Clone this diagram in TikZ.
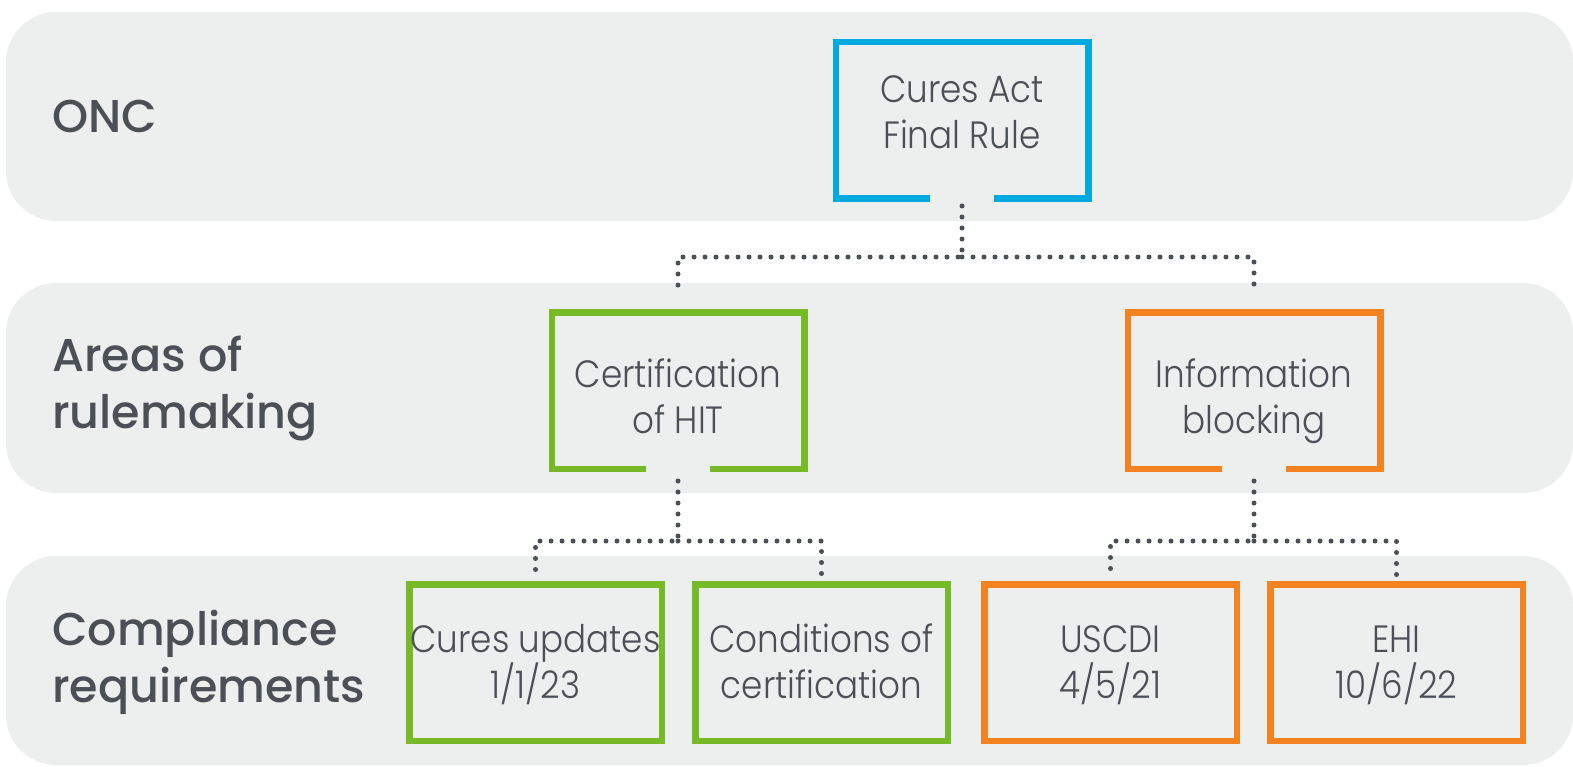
\documentclass[tikz,border=0pt]{standalone}
\usepackage{fontspec}
\setmainfont{Poppins}
\newfontfamily\boxfont{Poppins Light}[FakeStretch=0.9]
\newfontfamily\headfont{Poppins Medium}
\usetikzlibrary{shapes,arrows}

\definecolor{bandgray}{RGB}{237,238,238}
\definecolor{textgray}{RGB}{75,80,86}
\definecolor{curesblue}{RGB}{0,169,224}
\definecolor{hitgreen}{RGB}{120,185,40}
\definecolor{blockorange}{RGB}{245,130,32}

\begin{document}
\begin{tikzpicture}[x=1pt,y=1pt,yscale=-1,xscale=1,
  band/.style={fill=bandgray,rounded corners=50pt},
  head/.style={anchor=west,inner sep=0pt,align=left,text=textgray,font=\headfont\fontsize{46}{57}\selectfont},
  boxtext/.style={minimum width=252.5pt,minimum height=156.5pt,inner sep=0pt,outer sep=0pt,align=center,text=textgray,text height=91pt,text depth=20pt,font=\boxfont\fontsize{38}{46}\selectfont},
  rulebox/.style={boxtext,draw=#1,line width=6.5pt},
  boxline/.style={draw=#1,line width=6.5pt,line join=miter},
  dotline/.style={draw=textgray,line width=5pt,line cap=round,dash pattern=on 0pt off 11pt}]
\useasboundingbox (0,0) rectangle (1573,766);
%bands
\fill[band] (6,12) rectangle (1573,221);
\fill[band] (6,283) rectangle (1573,493);
\fill[band] (6,556) rectangle (1573,765);

\draw (52,116) node [head] (onc) {ONC};
\draw (52,388) node [head] (areas) {Areas of\\rulemaking};
\draw (52,662) node [head] (compl) {Compliance\\requirements};

%boxes with an opening at the bottom
\draw (962,120) node [boxtext,text height=76pt] (cures) {Cures Act\\Final Rule};
\draw (678,390.5) node [boxtext,text height=105pt] (cert) {Certification\\of HIT};
\draw (1254,390.5) node [boxtext,text height=105pt] (info) {Information\\blocking};
\draw[boxline=curesblue] ([xshift=-32pt]cures.south) -- (cures.south west) -- (cures.north west) -- (cures.north east) -- (cures.south east) -- ([xshift=32pt]cures.south);
\draw[boxline=hitgreen] ([xshift=-32pt]cert.south) -- (cert.south west) -- (cert.north west) -- (cert.north east) -- (cert.south east) -- ([xshift=32pt]cert.south);
\draw[boxline=blockorange] ([xshift=-32pt]info.south) -- (info.south west) -- (info.north west) -- (info.north east) -- (info.south east) -- ([xshift=32pt]info.south);

\draw (535.5,662.5) node [rulebox=hitgreen] (cupd) {Cures updates\\1/1/23};
\draw (821.5,662.5) node [rulebox=hitgreen] (cond) {Conditions of\\certification};
\draw (1110.5,662.5) node [rulebox=blockorange] (uscdi) {USCDI\\4/5/21};
\draw (1396.5,662.5) node [rulebox=blockorange] (ehi) {EHI\\10/6/22};

%dotted connectors
\draw[dotline] (cures.south |- 0,206) -- (cures.south |- 0,257) -| (cert.north |- 0,288);
\draw[dotline] (cures.south |- 0,257) -| (info.north |- 0,288);
\draw[dotline] (cert.south |- 0,481) -- (cert.south |- 0,541) -| (cupd.north |- 0,575);
\draw[dotline] (cert.south |- 0,541) -| (cond.north |- 0,575);
\draw[dotline] (info.south |- 0,481) -- (info.south |- 0,541) -| (uscdi.north |- 0,575);
\draw[dotline] (info.south |- 0,541) -| (ehi.north |- 0,575);
\end{tikzpicture}
\end{document}
